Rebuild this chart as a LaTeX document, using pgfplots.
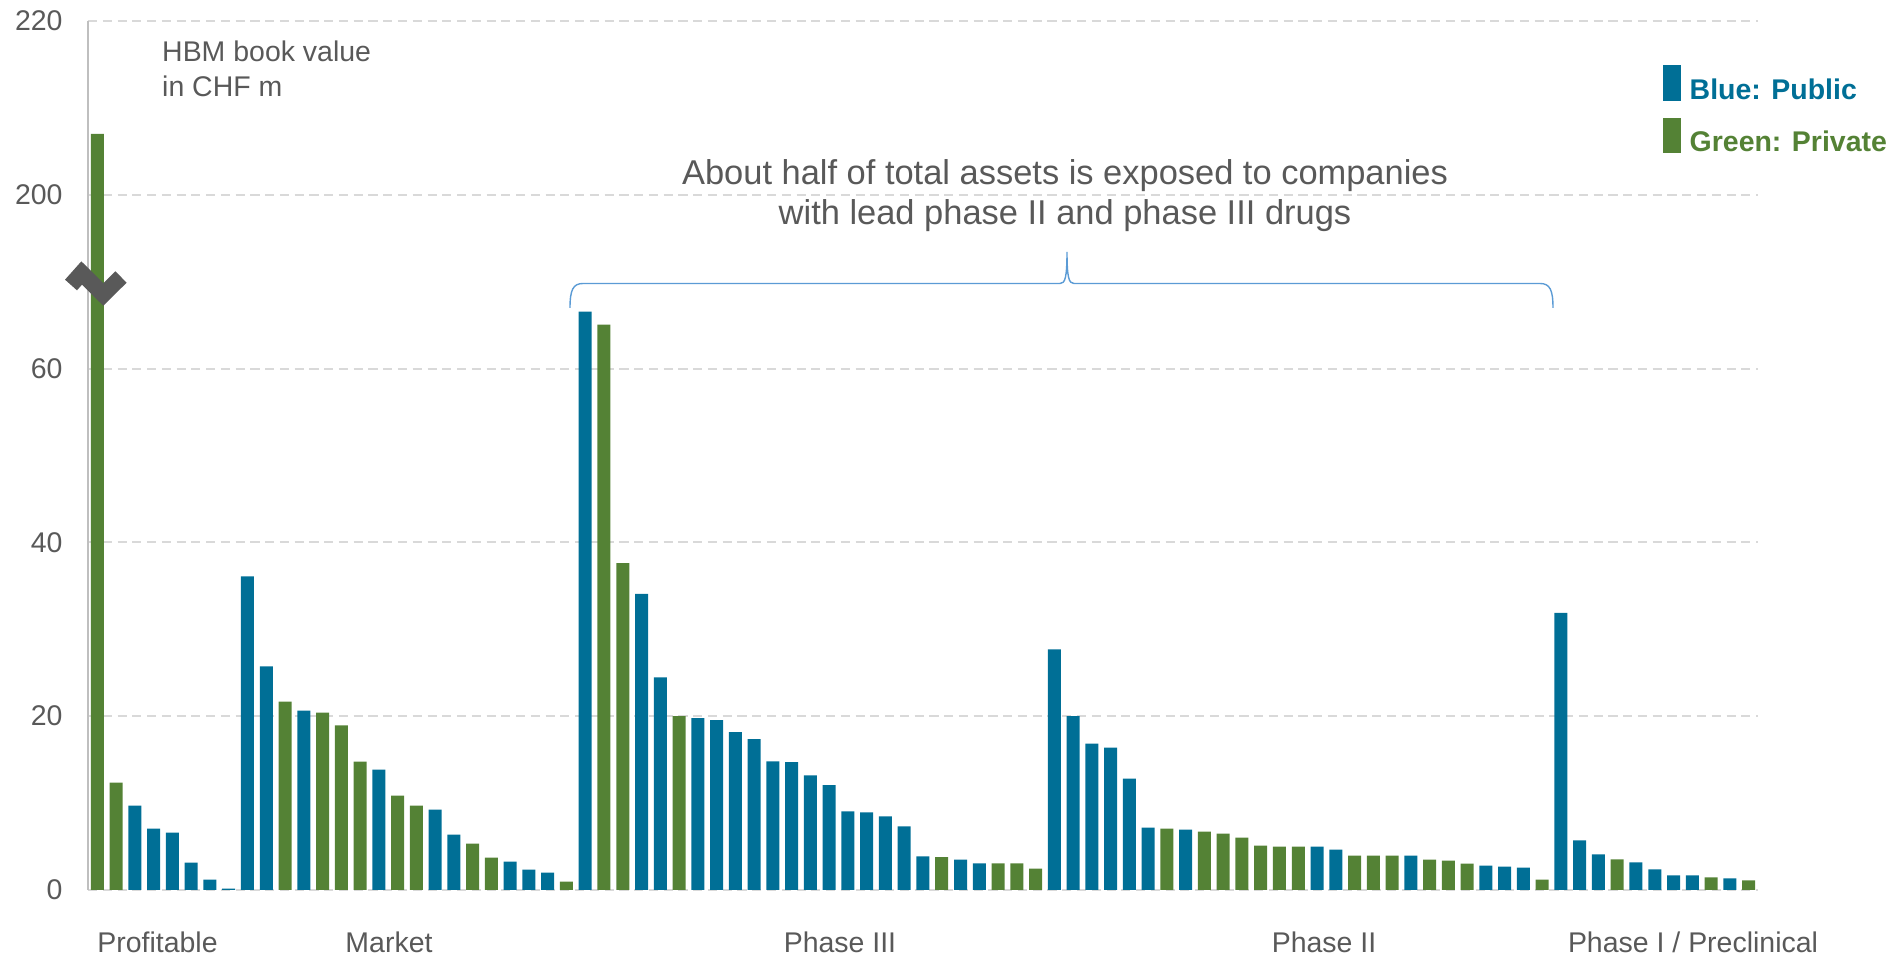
\documentclass[border=0pt]{standalone}
\usepackage{fontspec}
\setmainfont{Liberation Sans}
\usepackage{pgfplots}
\pgfplotsset{compat=1.18}

\definecolor{pubblue}{RGB}{0,111,150}
\definecolor{privgreen}{RGB}{84,130,53}
\definecolor{txtgray}{RGB}{89,89,89}
\definecolor{gridgray}{RGB}{217,217,217}
\definecolor{axgray}{RGB}{191,191,191}
\definecolor{bracecol}{RGB}{91,155,213}

\newcommand{\smallfont}{\fontsize{8.1}{9.7}\selectfont}

\begin{document}
\begin{tikzpicture}
\path[use as bounding box] (-0.88,-0.68) rectangle (18.16,8.90);

\begin{axis}[
    at={(0,0)}, anchor=south west,
    scale only axis,
    width=16.70cm, height=8.69cm,
    ybar, bar width=0.13cm,
    xmin=0.5, xmax=89.5,
    ymin=0, ymax=100,
    axis x line=none,
    axis y line*=left,
    y axis line style={draw=axgray, line width=0.75pt},
    xtick=\empty,
    % broken axis: 80 and 100 stand for 200 and 220
    ytick={0,20,40,60,80,100},
    yticklabels={0,20,40,60,200,220},
    major tick length=0pt,
    yticklabel style={font=\smallfont, text=txtgray, xshift=-0.13cm},
    ymajorgrids,
    major grid style={draw=gridgray, line width=0.6pt, dash pattern=on 2.6pt off 1.6pt},
  ]
  % public holdings
  \addplot[draw=none, fill=pubblue, bar shift=0pt] coordinates {
    (3,9.71) (4,7.06) (5,6.60) (6,3.15) (7,1.19) (8,0.15)
    (9,36.08) (10,25.72) (12,20.65) (16,13.86) (19,9.25) (20,6.37)
    (23,3.26) (24,2.34) (25,2.00)
    (27,66.55) (30,34.08) (31,24.48) (33,19.78) (34,19.55) (35,18.16)
    (36,17.35) (37,14.80) (38,14.71) (39,13.18) (40,12.06) (41,9.06)
    (42,8.92) (43,8.48) (44,7.31) (45,3.86) (47,3.50) (48,3.05)
    (52,27.68) (53,20.00) (54,16.85) (55,16.39) (56,12.82) (57,7.18)
    (59,6.95) (66,4.99) (67,4.64) (71,3.95) (75,2.80) (76,2.69) (77,2.57)
    (79,31.90) (80,5.71) (81,4.10) (83,3.18) (84,2.38) (85,1.69)
    (86,1.69) (88,1.34)
  };
  % private holdings (bar 1 is 207, drawn at 87 on the broken axis)
  \addplot[draw=none, fill=privgreen, bar shift=0pt] coordinates {
    (1,87.0) (2,12.36)
    (11,21.69) (13,20.42) (14,18.93) (15,14.78) (17,10.86) (18,9.71)
    (21,5.34) (22,3.72) (26,0.96)
    (28,65.07) (29,37.62) (32,20.00) (46,3.77) (49,3.05) (50,3.05) (51,2.47)
    (58,7.06) (60,6.72) (61,6.49) (62,6.03) (63,5.11) (64,4.99) (65,4.99)
    (68,3.95) (69,3.95) (70,3.95) (72,3.49) (73,3.38) (74,3.03) (78,1.19)
    (82,3.52) (87,1.46) (89,1.11)
  };
\end{axis}

% axis break mark
\draw[txtgray, line width=0.16cm, line cap=butt, line join=miter]
  (-0.17,6.05) -- (-0.063,6.17) -- (0.153,5.955) -- (0.33,6.13);

% unit note
\node[anchor=base west, inner sep=0, text=txtgray, font=\smallfont] at (0.735,8.283) {HBM book value};
\node[anchor=base west, inner sep=0, text=txtgray, font=\smallfont] at (0.735,7.933) {in CHF m};

% annotation and brace
\node[anchor=base, inner sep=0, text=txtgray, font=\fontsize{9.8}{11.8}\selectfont] at (9.77,7.05)
  {About half of total assets is exposed to companies};
\node[anchor=base, inner sep=0, text=txtgray, font=\fontsize{9.8}{11.8}\selectfont] at (9.77,6.65)
  {with lead phase II and phase III drugs};
\draw[bracecol, line width=0.4pt]
  (4.82,5.82) .. controls (4.82,6.00) and (4.85,6.065) .. (4.95,6.065)
  -- (9.72,6.065) .. controls (9.77,6.065) and (9.79,6.12) .. (9.79,6.38)
  .. controls (9.79,6.12) and (9.81,6.065) .. (9.86,6.065)
  -- (14.52,6.065) .. controls (14.62,6.065) and (14.65,6.00) .. (14.65,5.82);

% category labels
\foreach \x/\t in {0.695/Profitable, 3.01/Market, 7.52/Phase III, 12.36/Phase II, 16.05/{Phase I / Preclinical}}
  \node[anchor=base, inner sep=0, text=txtgray, font=\smallfont] at (\x,-0.63) {\t};

% legend
\fill[pubblue] (15.75,7.89) rectangle (15.93,8.25);
\fill[privgreen] (15.75,7.37) rectangle (15.93,7.72);
\node[anchor=base west, inner sep=0, text=pubblue, font=\smallfont\bfseries] at (16.01,7.90) {Blue: Public};
\node[anchor=base west, inner sep=0, text=privgreen, font=\smallfont\bfseries] at (16.01,7.38) {Green: Private};
\end{tikzpicture}
\end{document}
